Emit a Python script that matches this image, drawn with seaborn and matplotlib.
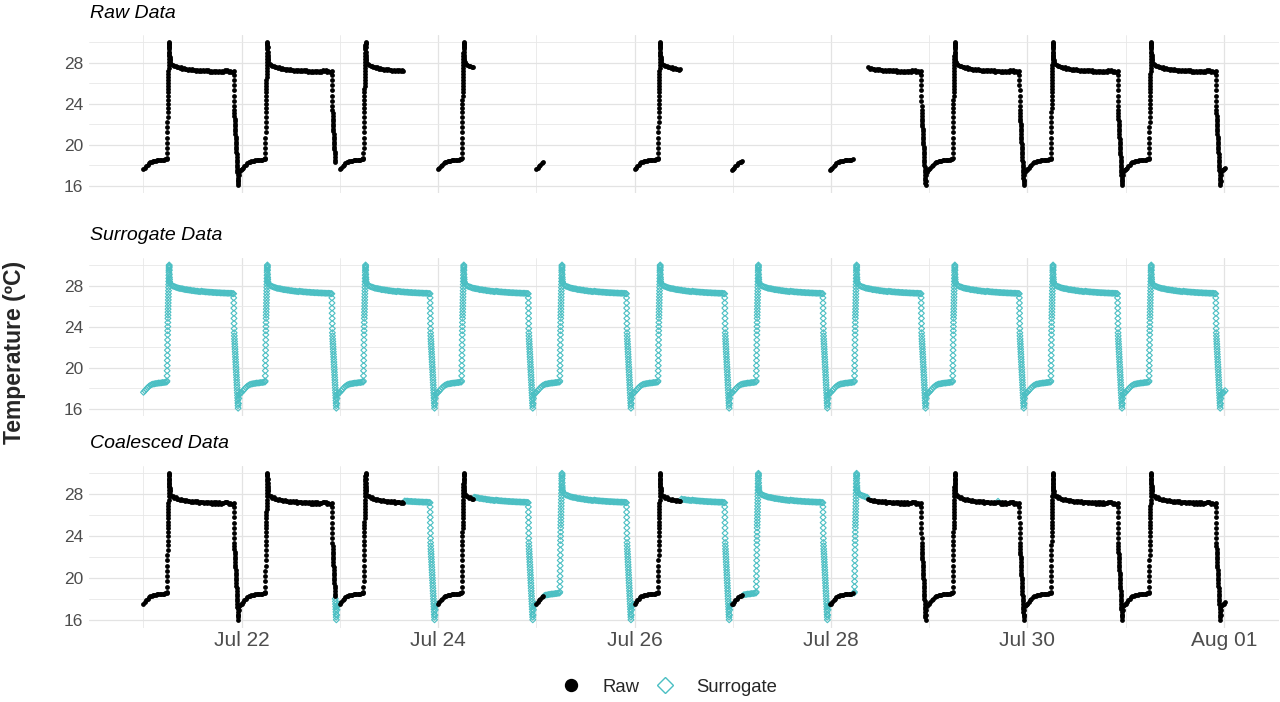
import numpy as np
import pandas as pd
import matplotlib
matplotlib.use("Agg")
import matplotlib.pyplot as plt
import matplotlib.dates as mdates
from matplotlib.ticker import FixedLocator
from matplotlib.lines import Line2D
import seaborn as sns

night_min = list(range(0, 341, 20))
night_temp = [17.6, 17.75, 17.9, 18.05, 18.18, 18.28, 18.35, 18.4, 18.42,
              18.45, 18.47, 18.5, 18.5, 18.52, 18.55, 18.55, 18.58, 18.6]

rise_min = list(range(345, 385))
rise_temp = [18.7, 19.2, 19.7, 20.2, 20.7, 21.2, 21.7, 22.2, 22.7, 23.2,
             23.6, 24.0, 24.4, 24.8, 25.1, 25.4, 25.7, 26.0, 26.3, 26.6,
             26.9, 27.2, 27.5, 27.8, 28.1, 28.4, 28.7, 29.0, 29.3, 29.5,
             29.7, 29.9, 30.0, 29.8, 29.5, 29.1, 28.8, 28.6, 28.4, 28.3]

day_min = list(range(390, 1311, 20))
raw_day_temp = [28.05, 27.85, 27.82, 27.68, 27.7, 27.55, 27.6, 27.48, 27.54, 27.42,
                27.5, 27.38, 27.44, 27.33, 27.4, 27.3, 27.38, 27.26, 27.34, 27.24,
                27.32, 27.2, 27.3, 27.22, 27.28, 27.16, 27.27, 27.15, 27.25, 27.14,
                27.24, 27.12, 27.23, 27.12, 27.22, 27.1, 27.22, 27.1, 27.2, 27.14,
                27.3, 27.22, 27.26, 27.12, 27.18, 27.06, 27.1]
surr_day_temp = [28.2, 28.05, 27.95, 27.9, 27.85, 27.8, 27.75, 27.72, 27.7, 27.68,
                 27.65, 27.6, 27.6, 27.58, 27.55, 27.55, 27.5, 27.5, 27.48, 27.45,
                 27.45, 27.42, 27.4, 27.45, 27.42, 27.4, 27.38, 27.38, 27.36, 27.35,
                 27.35, 27.33, 27.32, 27.32, 27.3, 27.3, 27.3, 27.28, 27.28, 27.27,
                 27.27, 27.26, 27.25, 27.25, 27.25, 27.24, 27.22]

fall_min = list(range(1322, 1331)) + list(range(1332, 1389, 2))
fall_temp = [27.2, 26.8, 26.3, 25.8, 25.3, 24.8, 24.3, 23.8, 23.4,
             23.1, 22.8, 22.55, 22.3, 22.05, 21.8, 21.55, 21.3, 21.05, 20.8,
             20.55, 20.3, 20.05, 19.8, 19.55, 19.3, 19.05, 18.8, 18.55, 18.3,
             18.05, 17.8, 17.55, 17.3, 17.05, 16.8, 16.55, 16.3, 16.05]

settle_min = [1393, 1398, 1405, 1415, 1428]
settle_temp = [16.5, 17.0, 17.35, 17.5, 17.55]

# periods (days after Jul 21 00:00) where the logger has raw readings
raw_start = [0.0, 2.0, 3.0, 3.995, 5.0, 5.99, 6.99, 7.38, 8.705]
raw_end = [1.952, 2.655, 3.36, 4.075, 5.47, 6.10, 7.23, 8.695, 11.02]

panel_titles = ["Raw Data", "Surrogate Data", "Coalesced Data"]
major_dates = ["2023-07-22", "2023-07-24", "2023-07-26", "2023-07-28", "2023-07-30", "2023-08-01"]
minor_dates = ["2023-07-21", "2023-07-23", "2023-07-25", "2023-07-27", "2023-07-29", "2023-07-31"]
y_major = [16, 20, 24, 28]
y_minor = [18, 22, 26, 30]

n_days = 11
end_day = 11.015
teal = "#4BBFC3"

# build the series
prof_min = night_min + rise_min + day_min + fall_min + settle_min
prof_raw = night_temp + rise_temp + raw_day_temp + fall_temp + settle_temp
prof_surr = night_temp + rise_temp + surr_day_temp + fall_temp + settle_temp

rows = []
for d in range(n_days + 1):
    for m, r, s in zip(prof_min, prof_raw, prof_surr):
        t = d + m / 1440
        if t <= end_day:
            rows.append((t, r, s))
df = pd.DataFrame(rows, columns=["day", "raw", "surrogate"])
start = pd.Timestamp("2023-07-21")
df["time"] = start + pd.to_timedelta(df["day"], unit="D")

has_raw = np.zeros(len(df), dtype=bool)
for a, b in zip(raw_start, raw_end):
    has_raw |= ((df["day"] >= a) & (df["day"] <= b)).to_numpy()

raw_df = pd.DataFrame({"time": df["time"][has_raw], "temp": df["raw"][has_raw], "source": "Raw"})
surr_df = pd.DataFrame({"time": df["time"], "temp": df["surrogate"], "source": "Surrogate"})
coal_df = pd.DataFrame({
    "time": df["time"],
    "temp": np.where(has_raw, df["raw"], df["surrogate"]),
    "source": np.where(has_raw, "Raw", "Surrogate"),
})
panels = [raw_df, surr_df, coal_df]

sns.set_style("white")
plt.rcParams["font.family"] = ["Liberation Sans", "DejaVu Sans"]

W, H = 1280, 702
fig = plt.figure(figsize=(W / 100, H / 100), dpi=100)

# pixel rows of the 30 and 16 gridlines in each panel
grid_px = [(42.3, 185.7), (265.0, 408.7), (473.3, 620.3)]
span = df["day"].max() - df["day"].min()
x_lo = start + pd.Timedelta(days=-0.05 * span)
x_hi = start + pd.Timedelta(days=df["day"].max() + 0.05 * span)

for i, (data, title, (p30, p16)) in enumerate(zip(panels, panel_titles, grid_px)):
    k = (p16 - p30) / 14
    top = p30 - 0.7 * k
    bot = p16 + 0.7 * k
    ax = fig.add_axes([89.4 / W, 1 - bot / H, 1189.8 / W, (bot - top) / H])

    s_part = data[data["source"] == "Surrogate"]
    r_part = data[data["source"] == "Raw"]
    if len(s_part):
        sns.scatterplot(data=s_part, x="time", y="temp", marker="D", s=9,
                        color=teal, facecolor="none", edgecolor=teal,
                        linewidth=0.8, ax=ax, legend=False, zorder=3)
    if len(r_part):
        sns.scatterplot(data=r_part, x="time", y="temp", marker="o", s=12,
                        color="black", linewidth=0, ax=ax, legend=False, zorder=4)

    ax.set_xlim(x_lo, x_hi)
    ax.set_ylim(15.3, 30.7)
    ax.xaxis.set_major_locator(FixedLocator(mdates.date2num(pd.to_datetime(major_dates))))
    ax.xaxis.set_minor_locator(FixedLocator(mdates.date2num(pd.to_datetime(minor_dates))))
    ax.xaxis.set_major_formatter(mdates.DateFormatter("%b %d"))
    ax.set_yticks(y_major)
    ax.set_yticks(y_minor, minor=True)
    ax.grid(which="major", color="#E3E3E3", linewidth=0.9)
    ax.grid(which="minor", color="#E8E8E8", linewidth=0.6)
    ax.set_axisbelow(True)
    for sp in ax.spines.values():
        sp.set_visible(False)
    ax.tick_params(which="both", length=0)
    ax.tick_params(axis="y", labelsize=12.5, labelcolor="#4D4D4D", pad=4.6)
    ax.tick_params(axis="x", labelsize=15, labelcolor="#4D4D4D", pad=2.6)
    if i < 2:
        ax.tick_params(axis="x", labelbottom=False)
    ax.set_xlabel("")
    ax.set_ylabel("")

    fig.text(90 / W, 1 - (top - 17.5) / H, title, fontsize=14, style="italic",
             ha="left", va="baseline", color="black")

fig.text(3.3 / W, 1 - 352 / H, "Temperature (ºC)", rotation=90, fontsize=16.5,
         fontweight="bold", ha="left", va="center")

handles = [
    Line2D([], [], linestyle="none", marker="o", markersize=8.6, color="black"),
    Line2D([], [], linestyle="none", marker="D", markersize=8.0,
           markerfacecolor="none", markeredgecolor=teal, markeredgewidth=1.0),
]
fig.legend(handles, ["Raw", "Surrogate"], loc="center", ncol=2, frameon=False,
           bbox_to_anchor=(665 / W, 1 - 687 / H), fontsize=13.3,
           handlelength=2.0, handletextpad=0.695, columnspacing=0.385, borderpad=0)

fig.savefig("out.png", dpi=100, facecolor="white")
